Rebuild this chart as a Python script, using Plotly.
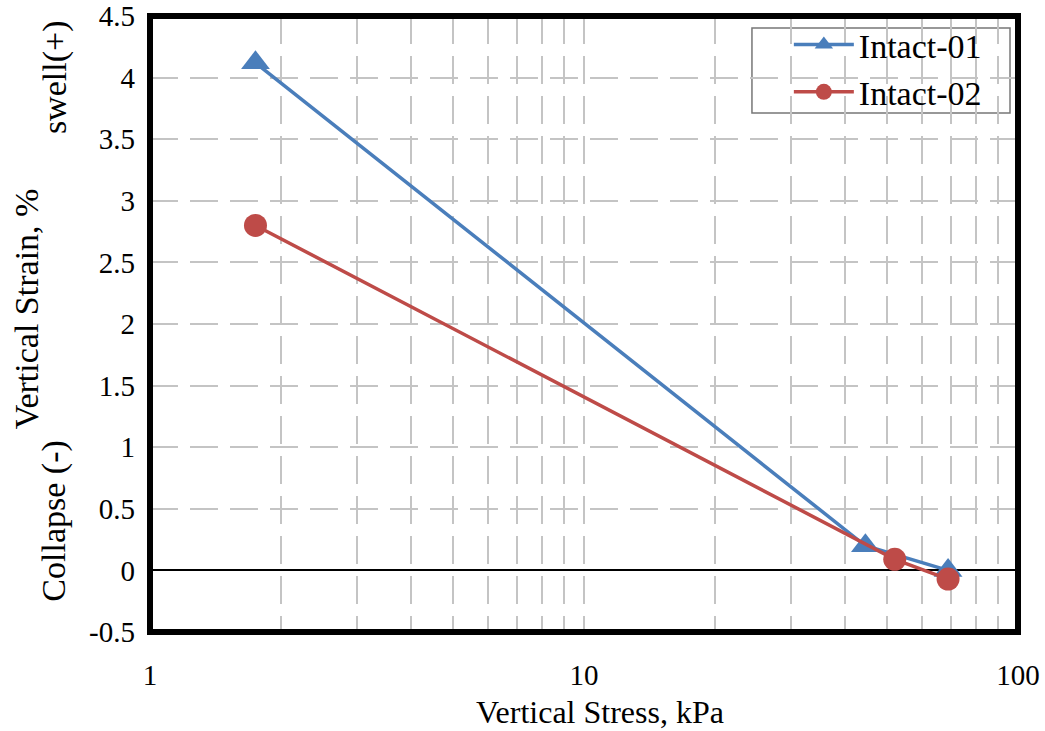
import plotly.graph_objects as go

stress_01 = [1.75, 44.5, 69.0]
strain_01 = [4.12, 0.20, 0.00]
stress_02 = [1.75, 52.0, 69.0]
strain_02 = [2.80, 0.09, -0.07]

blue = "#4a7ebb"
red = "#be4b48"
font = "Liberation Serif, Times New Roman, serif"

fig = go.Figure()
fig.add_trace(go.Scatter(x=stress_01, y=strain_01, mode="lines+markers", name="Intact-01",
                         line=dict(color=blue, width=3.5),
                         marker=dict(symbol="triangle-up", size=25, color=blue)))
fig.add_trace(go.Scatter(x=stress_02, y=strain_02, mode="lines+markers", name="Intact-02",
                         line=dict(color=red, width=3.5),
                         marker=dict(symbol="circle", size=23, color=red)))

gridc = "#c4c4c4"
dash = "28px,12px"
fig.update_layout(
    width=1045, height=731,
    margin=dict(l=150, r=27, t=16, b=99, autoexpand=False),
    paper_bgcolor="white", plot_bgcolor="white",
    font=dict(family=font, size=28, color="black"),
    showlegend=True,
    legend=dict(x=0.736, y=1.0, xanchor="left", yanchor="top",
                borderwidth=0, bgcolor="rgba(0,0,0,0)",
                font=dict(size=34, family=font), itemwidth=60,
                tracegroupgap=0),
    xaxis=dict(type="log", range=[0, 2], automargin=False,
               tickvals=[1, 10, 100], ticktext=["1", "10", "100"],
               tickfont=dict(family=font, size=29),
               ticks="", showline=False,
               showgrid=True, gridcolor=gridc, gridwidth=1.8, griddash=dash,
               minor=dict(showgrid=True, gridcolor=gridc, gridwidth=1.8, griddash=dash,
                          tickvals=[2, 3, 4, 5, 6, 7, 8, 9, 20, 30, 40, 50, 60, 70, 80, 90]),
               ticklabelstandoff=23,
               zeroline=False),
    yaxis=dict(range=[-0.5, 4.5], automargin=False,
               tickvals=[-0.5, 0, 0.5, 1, 1.5, 2, 2.5, 3, 3.5, 4, 4.5],
               ticktext=["-0.5", "0", "0.5", "1", "1.5", "2", "2.5", "3", "3.5", "4", "4.5"],
               tickfont=dict(family=font, size=29),
               ticks="", showline=False, ticklabelstandoff=14,
               showgrid=True, gridcolor=gridc, gridwidth=1.8, griddash=dash,
               zeroline=True, zerolinecolor="black", zerolinewidth=1.5),
)

# legend box (white fill over grid)
fig.add_shape(type="rect", xref="paper", yref="paper", x0=0.6935, x1=0.9908, y0=0.8425, y1=0.9805,
              line=dict(color="#777", width=1.5), fillcolor="white", layer="between")

# plot border
fig.add_shape(type="rect", xref="paper", yref="paper", x0=0, x1=1, y0=0, y1=1,
              line=dict(color="black", width=6), layer="above")

# x-axis title
fig.add_annotation(text="Vertical Stress, kPa", xref="paper", yref="paper", x=0.518, y=-0.13,
                   xanchor="center", yanchor="middle", showarrow=False,
                   font=dict(size=32, family=font))

# y-axis title pieces
fig.add_annotation(text="Vertical Strain, %", xref="paper", yref="paper", x=-0.142, y=0.525,
                   xanchor="center", yanchor="middle", textangle=-90, showarrow=False,
                   font=dict(size=34, family=font))
fig.add_annotation(text="swell(+)", xref="paper", yref="paper", x=-0.11, y=0.9,
                   xanchor="center", yanchor="middle", textangle=-90, showarrow=False,
                   font=dict(size=34, family=font))
fig.add_annotation(text="Collapse (-)", xref="paper", yref="paper", x=-0.11, y=0.18,
                   xanchor="center", yanchor="middle", textangle=-90, showarrow=False,
                   font=dict(size=34, family=font))

fig.write_html("out.html")
